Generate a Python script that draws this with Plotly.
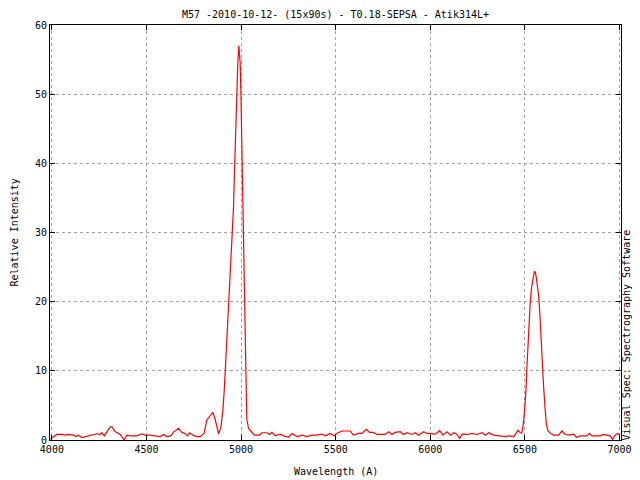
import plotly.graph_objects as go

title_text = "M57 -2010-10-12- (15x90s) - T0.18-SEPSA - Atik314L+"
x_label = "Wavelength (A)"
y_label = "Relative Intensity"
side_note = "Visual Spec: Spectrography Software"
x_ticks = [4000, 4500, 5000, 5500, 6000, 6500, 7000]
y_ticks = [0, 10, 20, 30, 40, 50, 60]

wavelength = [
    3991, 4000, 4026, 4053, 4070, 4088, 4114, 4129, 4141, 4159, 4185, 4211, 4238, 4255, 4264, 4277,
    4291, 4308, 4317, 4335, 4347, 4361, 4382, 4396, 4414, 4449, 4476, 4493, 4520, 4546, 4573, 4590,
    4608, 4629, 4643, 4669, 4687, 4705, 4717, 4728, 4745, 4766, 4784, 4793, 4805, 4819, 4837, 4851,
    4863, 4881, 4893, 4904, 4911, 4916, 4922, 4928, 4933, 4939, 4944, 4949, 4955, 4960, 4965, 4971,
    4978, 4983, 4988, 4992, 4995, 4999, 5004, 5009, 5014, 5020, 5025, 5030, 5039, 5049, 5070, 5098,
    5110, 5137, 5151, 5163, 5181, 5207, 5225, 5251, 5269, 5295, 5322, 5348, 5374, 5401, 5427, 5445,
    5471, 5492, 5506, 5533, 5577, 5594, 5621, 5639, 5662, 5679, 5700, 5718, 5762, 5780, 5797, 5815,
    5841, 5859, 5877, 5903, 5921, 5938, 5965, 5983, 6000, 6027, 6050, 6067, 6088, 6106, 6124, 6141,
    6155, 6168, 6194, 6221, 6247, 6274, 6291, 6309, 6335, 6370, 6397, 6415, 6441, 6464, 6476, 6484,
    6493, 6498, 6505, 6511, 6516, 6521, 6528, 6535, 6542, 6549, 6553, 6558, 6564, 6572, 6578, 6585,
    6592, 6599, 6606, 6613, 6622, 6634, 6652, 6678, 6696, 6714, 6731, 6758, 6772, 6793, 6828, 6842,
    6854, 6898, 6916, 6951, 6963, 6977, 6991, 7004,
]
intensity = [
    0.1, 0.25, 0.8, 0.8, 0.7, 0.8, 0.7, 0.5, 0.7, 0.35, 0.5, 0.7, 0.9, 0.8, 1.05, 0.6,
    1.2, 1.9, 1.9, 1.2, 1.05, 0.8, 0.0, 0.7, 0.6, 0.6, 0.9, 0.7, 0.7, 0.6, 0.5, 0.8,
    0.5, 0.6, 1.15, 1.7, 1.1, 0.9, 0.6, 1.05, 0.7, 0.5, 0.5, 0.7, 1.0, 2.9, 3.5, 4.0,
    3.0, 0.9, 1.8, 4.35, 7.2, 9.9, 11.6, 15.5, 18.6, 21.3, 23.7, 26.6, 30.2, 33.6, 38.7, 45.0,
    50.2, 54.8, 57.0, 56.0, 54.6, 50.2, 42.5, 34.8, 25.6, 13.5, 6.3, 3.1, 1.7, 1.35, 0.7, 0.7,
    1.05, 1.05, 0.8, 1.1, 0.6, 0.85, 0.6, 0.4, 0.95, 0.5, 0.7, 0.5, 0.7, 0.7, 0.85, 0.6,
    0.95, 0.6, 0.95, 1.3, 1.3, 0.7, 0.95, 0.95, 1.55, 1.1, 1.1, 0.8, 0.8, 1.2, 0.8, 1.1,
    1.2, 0.8, 1.05, 0.8, 1.05, 0.7, 1.2, 0.95, 0.9, 0.85, 1.35, 0.7, 1.2, 0.7, 1.05, 0.8,
    0.25, 0.85, 0.8, 0.95, 0.8, 1.05, 0.7, 1.05, 0.7, 0.6, 0.5, 0.6, 0.5, 1.4, 1.05, 1.0,
    2.6, 4.3, 6.7, 10.6, 13.5, 16.4, 19.8, 22.0, 23.4, 24.2, 24.4, 23.9, 22.7, 21.0, 18.8, 14.7,
    11.1, 7.7, 4.8, 2.4, 1.3, 1.0, 0.7, 0.7, 1.3, 0.8, 0.7, 0.85, 0.4, 0.6, 0.6, 0.95,
    0.6, 0.6, 0.8, 0.6, 0.1, 0.7, 0.95, 0.7,
]

FONT = "DejaVu Sans Mono"

fig = go.Figure()
fig.add_trace(go.Scatter(
    x=wavelength, y=intensity, mode="lines",
    line=dict(color="#ff0000", width=1.2),
    hoverinfo="skip", showlegend=False,
))

axis_common = dict(
    showline=True, linecolor="black", linewidth=1, mirror="ticks",
    ticks="inside", ticklen=5, tickcolor="black",
    showgrid=True, gridcolor="#a0a0a0", griddash="3px,3px", gridwidth=1,
    zeroline=False,
    tickfont=dict(family=FONT, size=10, color="black"),
)

# The page adds an 8px body margin, so margins compensate for it.
fig.update_layout(
    width=640, height=480,
    margin=dict(l=42, r=27, t=17, b=48),
    paper_bgcolor="white", plot_bgcolor="white",
    font=dict(family=FONT, size=10, color="black"),
    title=dict(text=title_text, x=0.5, xref="paper", xanchor="center",
               y=0.9875, yref="container", yanchor="middle",
               font=dict(family=FONT, size=10, color="black")),
    xaxis=dict(range=[3990, 7008], tickvals=x_ticks, **axis_common),
    yaxis=dict(range=[0, 60], tickvals=y_ticks, **axis_common),
    annotations=[
        dict(text=x_label, xref="paper", yref="paper", x=0.5, y=0,
             yshift=-31, xanchor="center", yanchor="middle", showarrow=False,
             font=dict(family=FONT, size=10, color="black")),
        dict(text=y_label, xref="paper", yref="paper", x=0, y=0.5,
             xshift=-36, xanchor="center", yanchor="middle", textangle=-90, showarrow=False,
             font=dict(family=FONT, size=10, color="black")),
        dict(text=side_note, xref="paper", yref="paper", x=1.0, y=0.0,
             xshift=5, yshift=-3, xanchor="center", yanchor="bottom", textangle=-90,
             showarrow=False,
             font=dict(family=FONT, size=10, color="black")),
    ],
)

fig.write_html("out.html")
